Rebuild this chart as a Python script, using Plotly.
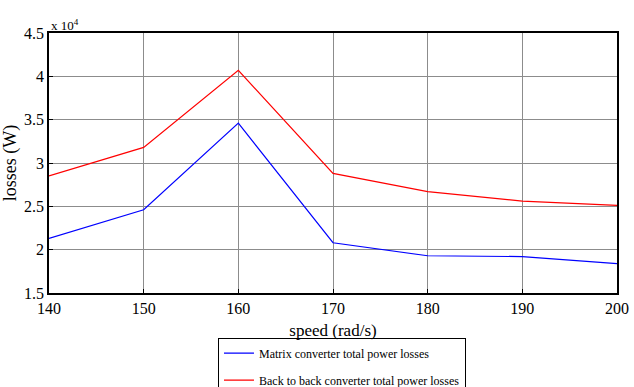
import plotly.graph_objects as go

# Rotor speed (rad/s) and total converter losses (W)
speed = [140, 150, 160, 170, 180, 190, 200]
matrix_losses = [21300, 24600, 34600, 20800, 19300, 19200, 18400]
b2b_losses = [28500, 31800, 40700, 28800, 26700, 25600, 25100]

y_ticks = [15000, 20000, 25000, 30000, 35000, 40000, 45000]
y_tick_text = ["1.5", "2", "2.5", "3", "3.5", "4", "4.5"]
x_ticks = speed

FONT = "Liberation Serif, Times New Roman, serif"

fig = go.Figure()
fig.add_trace(go.Scatter(
    x=speed, y=matrix_losses, mode="lines",
    line=dict(color="#0000ff", width=1.2),
    name="Matrix converter total power losses", legendgroup="a",
))
fig.add_trace(go.Scatter(
    x=speed, y=b2b_losses, mode="lines",
    line=dict(color="#ff0000", width=1.2),
    name="Back to back converter total power losses", legendgroup="b",
))

axis_common = dict(
    showline=True, linecolor="black", linewidth=1.5, mirror=True,
    ticks="inside", ticklen=4, tickcolor="black",
    showgrid=True, gridcolor="#8c8c8c", gridwidth=1,
    zeroline=False, automargin=False,
    tickfont=dict(family=FONT, size=16, color="black"),
)

fig.update_xaxes(
    range=[140, 200], tickvals=x_ticks,
    title=dict(text="speed (rad/s)", font=dict(family=FONT, size=17, color="black"), standoff=8),
    **axis_common,
)
fig.update_yaxes(
    range=[15000, 45000], tickvals=y_ticks, ticktext=y_tick_text,
    title=dict(text="losses (W)", font=dict(family=FONT, size=18, color="black"), standoff=10),
    **axis_common,
)

fig.add_annotation(
    x=0, y=1, xref="paper", yref="paper", xanchor="left", yanchor="bottom",
    text="x 10<sup>4</sup>", showarrow=False, xshift=0, yshift=-2,
    font=dict(family=FONT, size=13, color="black"),
)

fig.update_layout(
    width=634, height=387,
    font=dict(family=FONT, color="black"),
    margin=dict(l=49, r=17, t=33, b=94, autoexpand=False),
    plot_bgcolor="white", paper_bgcolor="white",
    legend=dict(
        x=0.2975, y=-0.172, xanchor="left", yanchor="top",
        bordercolor="black", borderwidth=1, bgcolor="white",
        font=dict(family=FONT, size=12, color="black"),
        tracegroupgap=8,
    ),
)

fig.write_html("out.html")
